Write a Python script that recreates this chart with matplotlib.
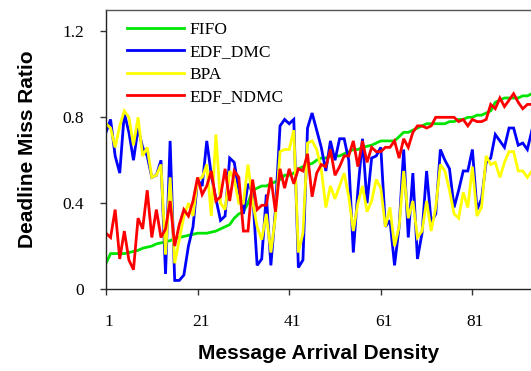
import numpy as np
import matplotlib
matplotlib.use("Agg")
import matplotlib.pyplot as plt
from matplotlib.transforms import ScaledTranslation

# Message arrival density (x) and deadline miss ratio per scheduling policy
density = list(range(1, 95))

fifo = [0.12, 0.165, 0.165, 0.165, 0.165, 0.17, 0.175, 0.18, 0.19, 0.195,
        0.20, 0.21, 0.215, 0.22, 0.225, 0.235, 0.24, 0.245, 0.25, 0.255,
        0.26, 0.26, 0.26, 0.265, 0.27, 0.28, 0.29, 0.30, 0.33, 0.35,
        0.36, 0.40, 0.46, 0.47, 0.48, 0.48, 0.49, 0.50, 0.51, 0.53,
        0.53, 0.54, 0.56, 0.57, 0.58, 0.585, 0.60, 0.61, 0.61, 0.62,
        0.62, 0.62, 0.63, 0.64, 0.65, 0.65, 0.66, 0.665, 0.67, 0.68,
        0.69, 0.69, 0.69, 0.69, 0.71, 0.73, 0.73, 0.74, 0.75, 0.76,
        0.77, 0.77, 0.77, 0.77, 0.77, 0.78, 0.78, 0.79, 0.79, 0.80,
        0.80, 0.81, 0.81, 0.82, 0.83, 0.87, 0.88, 0.89, 0.89, 0.89,
        0.89, 0.90, 0.90, 0.91]

edf_dmc = [0.73, 0.79, 0.62, 0.54, 0.82, 0.73, 0.60, 0.75, 0.66, 0.62,
           0.52, 0.53, 0.60, 0.07, 0.69, 0.04, 0.04, 0.065, 0.20, 0.29,
           0.51, 0.48, 0.69, 0.53, 0.42, 0.32, 0.34, 0.61, 0.59, 0.46,
           0.35, 0.49, 0.45, 0.11, 0.14, 0.44, 0.11, 0.37, 0.76, 0.79,
           0.77, 0.79, 0.10, 0.135, 0.75, 0.82, 0.74, 0.66, 0.55, 0.69,
           0.60, 0.70, 0.70, 0.60, 0.17, 0.46, 0.70, 0.40, 0.61, 0.62,
           0.66, 0.29, 0.32, 0.11, 0.29, 0.65, 0.24, 0.54, 0.14, 0.26,
           0.55, 0.31, 0.35, 0.65, 0.60, 0.56, 0.38, 0.46, 0.55, 0.55,
           0.65, 0.37, 0.42, 0.59, 0.61, 0.72, 0.69, 0.66, 0.75, 0.75,
           0.67, 0.68, 0.65, 0.74]

bpa = [0.77, 0.75, 0.66, 0.76, 0.83, 0.80, 0.67, 0.80, 0.62, 0.66,
       0.52, 0.53, 0.58, 0.16, 0.52, 0.12, 0.23, 0.34, 0.40, 0.34,
       0.51, 0.52, 0.58, 0.34, 0.72, 0.40, 0.37, 0.55, 0.51, 0.40,
       0.40, 0.58, 0.41, 0.29, 0.23, 0.35, 0.17, 0.34, 0.64, 0.65,
       0.65, 0.74, 0.17, 0.26, 0.68, 0.69, 0.65, 0.56, 0.38, 0.48,
       0.42, 0.48, 0.54, 0.43, 0.27, 0.40, 0.48, 0.36, 0.41, 0.51,
       0.47, 0.29, 0.38, 0.20, 0.29, 0.55, 0.33, 0.41, 0.24, 0.27,
       0.41, 0.27, 0.38, 0.58, 0.55, 0.46, 0.35, 0.33, 0.45, 0.38,
       0.57, 0.34, 0.38, 0.62, 0.58, 0.59, 0.52, 0.59, 0.64, 0.64,
       0.55, 0.55, 0.52, 0.55]

edf_ndmc = [0.26, 0.24, 0.37, 0.14, 0.27, 0.135, 0.09, 0.33, 0.28, 0.46,
            0.24, 0.37, 0.24, 0.28, 0.41, 0.20, 0.30, 0.37, 0.34, 0.41,
            0.52, 0.44, 0.48, 0.55, 0.41, 0.43, 0.56, 0.41, 0.55, 0.52,
            0.27, 0.27, 0.51, 0.37, 0.39, 0.39, 0.52, 0.36, 0.56, 0.47,
            0.56, 0.49, 0.56, 0.55, 0.63, 0.43, 0.54, 0.58, 0.57, 0.65,
            0.53, 0.57, 0.62, 0.62, 0.69, 0.57, 0.69, 0.59, 0.66, 0.64,
            0.64, 0.66, 0.66, 0.69, 0.61, 0.70, 0.66, 0.73, 0.76, 0.76,
            0.75, 0.76, 0.80, 0.80, 0.80, 0.80, 0.80, 0.78, 0.79, 0.76,
            0.79, 0.78, 0.78, 0.79, 0.86, 0.84, 0.89, 0.85, 0.88, 0.91,
            0.87, 0.84, 0.86, 0.86]

series = [("FIFO", fifo, "#00e600"),
          ("EDF_DMC", edf_dmc, "#0000ff"),
          ("BPA", bpa, "#ffff00"),
          ("EDF_NDMC", edf_ndmc, "#ff0000")]

x_ticks = [1, 21, 41, 61, 81]
y_ticks = [0, 0.4, 0.8, 1.2]
y_tick_labels = ["0", "0.4", "0.8", "1.2"]

W, H = 531, 371
fig = plt.figure(figsize=(W / 100, H / 100), dpi=100)
ax = fig.add_axes([106 / W, (H - 289) / H, (W - 106) / W, (289 - 10) / H])

for name, vals, color in series:
    ax.plot(density, vals, color=color, lw=2.0, label=name, solid_joinstyle="miter")

ax.set_xlim(1, 1 + (W - 106) / 4.58)
ax.set_ylim(0, 1.3)

ax.set_xticks(x_ticks)
ax.set_xticklabels([str(t) for t in x_ticks])
ax.set_yticks(y_ticks)
ax.set_yticklabels(y_tick_labels)

serif = "Liberation Serif"
ax.tick_params(axis="both", direction="out", length=4, width=1, color="#333333",
               labelsize=12.5)
ax.tick_params(axis="x", pad=14)
ax.tick_params(axis="y", pad=12)
for lbl in ax.get_xticklabels() + ax.get_yticklabels():
    lbl.set_fontfamily(serif)
for lbl in ax.get_xticklabels():
    lbl.set_transform(lbl.get_transform() + ScaledTranslation(3 / 100, 0, fig.dpi_scale_trans))

ax.spines["right"].set_visible(False)
ax.spines["top"].set_color("#555555")
ax.spines["left"].set_color("#222222")
ax.spines["bottom"].set_color("#222222")
for s in ("top", "left", "bottom"):
    ax.spines[s].set_linewidth(1.0)

ax.set_xlabel("Message Arrival Density", fontfamily="Liberation Sans",
              fontweight="bold", fontsize=15, labelpad=10)
ax.set_ylabel("Deadline Miss Ratio", fontfamily="Liberation Sans",
              fontweight="bold", fontsize=15, labelpad=18)

leg = ax.legend(loc="upper left", bbox_to_anchor=(0.02, 1.0), frameon=False,
                prop={"family": serif, "size": 12.5}, handlelength=3.3,
                handletextpad=0.3, labelspacing=0.35, borderaxespad=0.3)

fig.savefig("out.png", dpi=100)
